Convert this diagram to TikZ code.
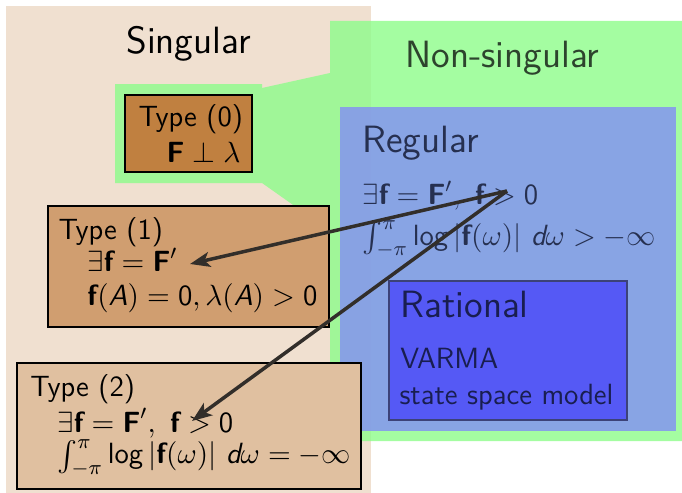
\RequirePackage{fix-cm}
\documentclass[tikz,border=0pt]{standalone}
\usepackage{amsmath}
\usepackage{fontspec}
\renewcommand{\familydefault}{\sfdefault}
\usetikzlibrary{arrows.meta}
\definecolor{beige}{RGB}{240,224,208}
\definecolor{nsgreen}{RGB}{141,252,138}
\definecolor{regblue}{RGB}{130,142,246}
\definecolor{ratblue}{RGB}{85,89,245}
\definecolor{ratedge}{RGB}{60,66,120}
\definecolor{tzero}{RGB}{192,128,64}
\definecolor{tone}{RGB}{208,158,112}
\definecolor{ttwo}{RGB}{224,192,160}
\definecolor{nstext}{RGB}{45,68,45}
\definecolor{regtext}{RGB}{38,48,80}
\definecolor{rattext}{RGB}{25,30,80}
\definecolor{arrcol}{RGB}{50,46,42}
\newcommand{\bvf}{\text{\bfseries f}}
\newcommand{\bvF}{\text{\bfseries F}}
\newcommand{\sA}{\text{\itshape A}}
\newcommand{\sd}{\text{\itshape d}}
\newcommand{\slog}{\text{log}}
\newcommand{\szero}{\text{0}}
\newcommand{\fsN}{\fontsize{11.7}{14}\selectfont}
\newcommand{\fsB}{\fontsize{15.2}{18}\selectfont}
\begin{document}
\begin{tikzpicture}[x=0.4pt,y=-0.4pt,
  txt/.style={anchor=base west,inner sep=0pt,font=\fsN},
  bigtxt/.style={anchor=base west,inner sep=0pt,font=\fsB},
  typebox/.style={draw=black,line width=0.45pt},
  arr/.style={draw=arrcol,line width=1.4pt,-{Stealth[length=8pt,width=6pt,inset=2pt]}}]
\useasboundingbox (0,0) rectangle (682,493);
% regions
\fill[beige] (6,6) rectangle (371,493);
\fill[nsgreen,opacity=0.8] (330,21) -- (682,21) -- (682,441) -- (330,441) -- (330,231)
  -- (262,183) -- (115,183) -- (115,84) -- (262,84) -- (262,88) -- (330,73) -- cycle;
\fill[regblue,opacity=0.8] (340,107) rectangle (676,431);
\draw[draw=ratedge,fill=ratblue,line width=0.45pt] (389,281) rectangle (627,420);
\draw[typebox,fill=tzero] (125,95) rectangle (252,172);
\draw[typebox,fill=tone] (48,206) rectangle (329,327);
\draw[typebox,fill=ttwo] (17,363) rectangle (361,489);
% titles
\node[bigtxt] (sing) at (126,53) {Singular};
\node[bigtxt,text=nstext] (nonsing) at (405,67) {Non-singular};
\node[bigtxt,text=regtext] (reg) at (362,153) {Regular};
\node[txt,text=regtext] (reg1) at (362,205) {$\exists\bvf=\bvF',\ \bvf>\szero$};
\node[txt,text=regtext] (reg2) at (362,245) {$\int_{-\pi}^{\pi}\slog\left|\bvf(\omega)\right|\,\sd\omega>-\infty$};
\node[bigtxt,text=rattext] (rat) at (400,317) {Rational};
\node[txt,text=rattext] (rat1) at (400,368) {VARMA};
\node[txt,text=rattext] (rat2) at (399,405) {state space model};
% type 0
\node[txt] (t0) at (138,127) {Type (0)};
\node[txt] (t0a) at (166,162) {$\bvF\perp\lambda$};
% type 1
\node[txt] (t1) at (58,239) {Type (1)};
\node[txt] (t1a) at (87,272) {$\exists\bvf=\bvF'$};
\node[txt] (t1b) at (87,305) {$\bvf(\sA)=\szero,\lambda(\sA)>\szero$};
% type 2
\node[txt] (t2) at (30,396) {Type (2)};
\node[txt] (t2a) at (57,432) {$\exists\bvf=\bvF',\ \bvf>\szero$};
\node[txt] (t2b) at (57,464) {$\int_{-\pi}^{\pi}\slog\left|\bvf(\omega)\right|\,\sd\omega=-\infty$};
% arrows
\coordinate (src) at (507,191);
\coordinate (dst1) at (190,264);
\coordinate (dst2) at (192,421);
\draw[arr] (src) -- (dst1);
\draw[arr] (src) -- (dst2);
\end{tikzpicture}
\end{document}
